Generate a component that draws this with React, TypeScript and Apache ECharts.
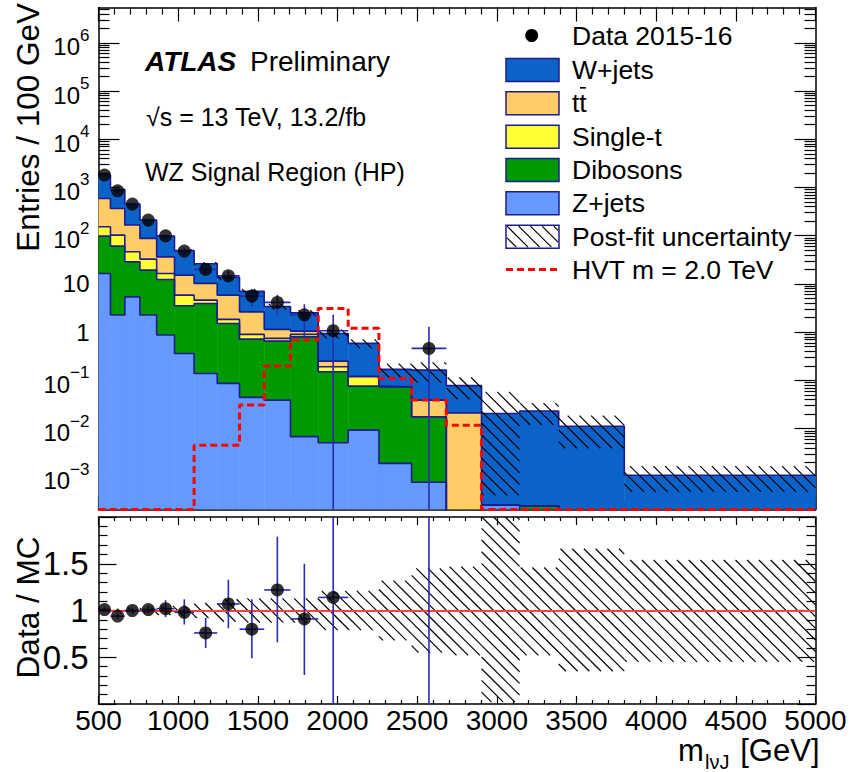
import React, { useEffect, useRef } from 'react';
import * as echarts from 'echarts';

// ---------------- data ----------------
const binEdges = [500, 575, 665, 760, 865, 977, 1100, 1245, 1385, 1540, 1705, 1879, 2067, 2260, 2465, 2683, 2904, 3143, 3388, 3800, 5000];

const zJets = [16.5, 2.26, 5.4, 2.26, 0.87, 0.362, 0.139, 0.0865, 0.0443, 0.039, 0.0068, 0.0051, 0.0093, 0.0019, 0.00077, 0.0001, 0.00026, 0.00015, 0, 0];
const dibosons = [81.5, 58.5, 23.3, 17.1, 11.5, 3.16, 3.8, 1.43, 0.673, 0.613, 0.793, 0.146, 0.0667, 0.0716, 0.0168, 0.00005, 0, 0.0001, 0, 0];
const singleTop = [55, 42, 17.7, 13.3, 4.1, 2.34, 0.68, 0.32, 0.18, 0.09, 0.1, 0.04, 0.043, 0.0001, 0.00005, 0, 0, 0, 0, 0];
const ttbar = [440, 265, 120, 55.2, 20, 9.34, 5.63, 4.02, 1.74, 0.4, 0.15, 0.06, 0.003, 0.0004, 0.0214, 0.021, 0, 0, 0, 0];
const wJets = [1197, 539, 286, 121, 61, 33.8, 16.05, 7.94, 4.36, 2.25, 1.47, 0.689, 0.462, 0.095, 0.124, 0.0568, 0.0203, 0.0229, 0.0112, 0.00108];

const dataValues = [1807, 853, 452, 211, 99.5, 48, 20.0, 14.7, 5.59, 4.14, 2.29, 1.07, null, null, 0.46, null, null, null, null, null];
const dataErrLow = [1760, 826, 438, 203, 91, 42, 16, 11.2, 3.4, 2.24, 0.8, 0, null, null, 0, null, null, null, null, null];
const dataErrHigh = [1855, 880, 466, 219, 108, 54, 24, 18.4, 7.8, 6.0, 3.8, 2.3, null, null, 1.3, null, null, null, null, null];

const hvtSignal = [0, 0, 0, 0, 0, 0, 0.0045, 0.0045, 0.0307, 0.198, 0.684, 3.1, 1.2, 0.11, 0.039, 0.0118, 0, 0, 0, 0];

const uncLow = [0.98, 0.98, 0.97, 0.97, 0.95, 0.94, 0.92, 0.88, 0.87, 0.87, 0.87, 0.79, 0.79, 0.68, 0.55, 0.52, 0.02, 0.52, 0.35, 0.45];
const uncHigh = [1.02, 1.02, 1.03, 1.03, 1.05, 1.06, 1.08, 1.12, 1.13, 1.13, 1.13, 1.21, 1.21, 1.32, 1.45, 1.47, 2.8, 1.46, 1.66, 1.54];

const ratioValues = [1.01, 0.94, 1.0, 1.01, 1.02, 0.98, 0.76, 1.07, 0.8, 1.22, 0.91, 1.14, null, null, 2.8, null, null, null, null, null];
const ratioErrLow = [0.985, 0.91, 0.97, 0.97, 0.93, 0.85, 0.6, 0.81, 0.49, 0.66, 0.31, 0, null, null, 0, null, null, null, null, null];
const ratioErrHigh = [1.035, 0.97, 1.03, 1.05, 1.11, 1.12, 0.92, 1.33, 1.12, 1.79, 1.5, 2.5, null, null, 5, null, null, null, null, null];

const yMajorTicks = [1e-3, 1e-2, 1e-1, 1, 10, 100, 1e3, 1e4, 1e5, 1e6];
const ratioTickLabels = ['0.5', '1', '1.5'];
const legendLabels = ['Data 2015-16', 'W+jets', 'tt', 'Single-t', 'Dibosons', 'Z+jets', 'Post-fit uncertainty', 'HVT m = 2.0 TeV'];

// ---------------- styling constants ----------------
const Y_MIN = 2.1e-4;
const Y_MAX = 5.4e6;
const FONT = '"Liberation Sans", Arial, Helvetica, sans-serif';
const NAVY = '#1c1c8f';
const ERR = '#2b2bb5';
const HATCH = 11.7;

const yMinorTicks: number[] = [];
for (let e = -4; e <= 6; e++) {
  for (let k = 2; k <= 9; k++) {
    const v = k * Math.pow(10, e);
    if (v > Y_MIN && v < Y_MAX) yMinorTicks.push(v);
  }
}

function hatchSegments(x0: number, y0: number, x1: number, y1: number, s: number) {
  const out: number[][] = [];
  if (x1 - x0 <= 0 || y1 - y0 <= 0) return out;
  const kMin = Math.ceil((y0 - x1) / s);
  const kMax = Math.floor((y1 - x0) / s);
  for (let k = kMin; k <= kMax; k++) {
    const c = k * s;
    const xa = Math.max(x0, y0 - c);
    const xb = Math.min(x1, y1 - c);
    if (xb - xa > 0.3) out.push([xa, xa + c, xb, xb + c]);
  }
  return out;
}

function buildOption() {
  const nBins = binEdges.length - 1;
  const centers = binEdges.slice(0, -1).map((e, i) => (e + binEdges[i + 1]) / 2);

  const layers = [
    { name: 'Z+jets', values: zJets, color: '#6699ff' },
    { name: 'Dibosons', values: dibosons, color: '#009900' },
    { name: 'Single-t', values: singleTop, color: '#ffff33' },
    { name: 'ttbar', values: ttbar, color: '#ffcc66' },
    { name: 'W+jets', values: wJets, color: '#0b63c9' },
  ];
  let running = new Array(nBins).fill(0);
  const cum = layers.map((l) => {
    const lo = running.slice();
    running = running.map((r: number, i: number) => r + l.values[i]);
    return { ...l, lo, hi: running.slice() };
  });
  const total = running;

  const renderFill = (color: string) => (params: any, api: any) => {
    const cs = params.coordSys;
    const bot = cs.y + cs.height;
    const top = cs.y;
    const xa = api.coord([api.value(0), 1])[0];
    const xb = api.coord([api.value(1), 1])[0];
    const lo = api.value(2);
    const hi = api.value(3);
    const yLo = lo > 0 ? Math.min(bot, api.coord([api.value(0), lo])[1]) : bot;
    const yHi = hi > 0 ? Math.max(top, Math.min(bot, api.coord([api.value(0), hi])[1])) : bot;
    if (yLo - yHi <= 0.01) return { type: 'group', children: [] };
    return {
      type: 'rect',
      shape: { x: xa, y: yHi, width: xb - xa + 0.4, height: yLo - yHi },
      style: { fill: color },
    };
  };

  const renderHatch = (isLog: boolean) => (params: any, api: any) => {
    const cs = params.coordSys;
    const bot = cs.y + cs.height;
    const top = cs.y;
    const xa = api.coord([api.value(0), 1])[0];
    const xb = api.coord([api.value(1), 1])[0];
    const lo = api.value(2);
    const hi = api.value(3);
    const yOf = (v: number) => {
      if (isLog && !(v > 0)) return bot;
      return Math.max(top, Math.min(bot, api.coord([api.value(0), v])[1]));
    };
    const segs = hatchSegments(xa, yOf(hi), xb, yOf(lo), HATCH);
    return {
      type: 'group',
      children: segs.map((s) => ({
        type: 'line',
        shape: { x1: s[0], y1: s[1], x2: s[2], y2: s[3] },
        style: { stroke: '#000', lineWidth: 1.2 },
      })),
    };
  };

  const renderErr = (isLog: boolean) => (params: any, api: any) => {
    const cs = params.coordSys;
    const bot = cs.y + cs.height;
    const top = cs.y;
    const x0 = api.value(0);
    const x1 = api.value(1);
    const v = api.value(2);
    const lo = api.value(3);
    const hi = api.value(4);
    const yOf = (val: number) => {
      if (isLog && !(val > 0)) return bot;
      return Math.max(top, Math.min(bot, api.coord([x0, val])[1]));
    };
    const xa = api.coord([x0, 1])[0];
    const xb = api.coord([x1, 1])[0];
    const xc = (xa + xb) / 2;
    const children: any[] = [];
    const yv = api.coord([x0, v])[1];
    const st = { stroke: ERR, lineWidth: 1.6 };
    if (yv >= top && yv <= bot) {
      children.push({ type: 'line', shape: { x1: xa, y1: yv, x2: xb, y2: yv }, style: st });
    }
    children.push({ type: 'line', shape: { x1: xc, y1: yOf(hi), x2: xc, y2: yOf(lo) }, style: st });
    return { type: 'group', children };
  };

  const stepData = (vals: number[], floor: number) =>
    binEdges.map((e, i) => [e, Math.max(vals[Math.min(i, vals.length - 1)], floor)]);

  const series: any[] = [];

  cum.forEach((l, idx) => {
    series.push({
      type: 'custom',
      name: l.name,
      xAxisIndex: 0,
      yAxisIndex: 0,
      z: 1 + idx * 0.01,
      clip: true,
      renderItem: renderFill(l.color),
      data: binEdges.slice(0, -1).map((e, i) => [e, binEdges[i + 1], l.lo[i], l.hi[i]]),
    });
  });
  cum.forEach((l) => {
    series.push({
      type: 'line',
      name: l.name + ' outline',
      xAxisIndex: 0,
      yAxisIndex: 0,
      step: 'end',
      symbol: 'none',
      clip: true,
      z: 2,
      lineStyle: { color: NAVY, width: 1.6 },
      data: stepData(l.hi, 1e-7),
    });
  });
  series.push({
    type: 'custom',
    name: 'Post-fit uncertainty',
    xAxisIndex: 0,
    yAxisIndex: 0,
    z: 3,
    clip: true,
    renderItem: renderHatch(true),
    data: binEdges.slice(0, -1).map((e, i) => [e, binEdges[i + 1], total[i] * uncLow[i], total[i] * uncHigh[i]]),
  });
  series.push({
    type: 'line',
    name: 'HVT m = 2.0 TeV',
    xAxisIndex: 0,
    yAxisIndex: 0,
    step: 'end',
    symbol: 'none',
    clip: true,
    z: 5,
    lineStyle: { color: '#ff0000', width: 3, type: [7, 4] },
    data: stepData(hvtSignal, Y_MIN),
  });
  const dataIdx = dataValues.map((v, i) => (v === null ? -1 : i)).filter((i) => i >= 0);
  series.push({
    type: 'custom',
    name: 'data errors',
    xAxisIndex: 0,
    yAxisIndex: 0,
    z: 6,
    clip: true,
    renderItem: renderErr(true),
    data: dataIdx.map((i) => [binEdges[i], binEdges[i + 1], dataValues[i], dataErrLow[i], dataErrHigh[i]]),
  });
  series.push({
    type: 'scatter',
    name: 'Data 2015-16',
    xAxisIndex: 0,
    yAxisIndex: 0,
    z: 7,
    symbol: 'circle',
    symbolSize: 13,
    itemStyle: { color: '#000' },
    data: dataIdx.map((i) => [centers[i], dataValues[i]]),
  });

  series.push({
    type: 'custom',
    name: 'ratio band',
    xAxisIndex: 2,
    yAxisIndex: 4,
    z: 3,
    clip: true,
    renderItem: renderHatch(false),
    data: binEdges.slice(0, -1).map((e, i) => [e, binEdges[i + 1], uncLow[i], uncHigh[i]]),
  });
  const ratioIdx = ratioValues.map((v, i) => (v === null ? -1 : i)).filter((i) => i >= 0);
  series.push({
    type: 'custom',
    name: 'ratio errors',
    xAxisIndex: 2,
    yAxisIndex: 4,
    z: 6,
    clip: true,
    renderItem: renderErr(false),
    data: ratioIdx.map((i) => [binEdges[i], binEdges[i + 1], ratioValues[i], ratioErrLow[i], ratioErrHigh[i]]),
  });
  series.push({
    type: 'scatter',
    name: 'ratio',
    xAxisIndex: 2,
    yAxisIndex: 4,
    z: 7,
    clip: true,
    symbol: 'circle',
    symbolSize: 13,
    itemStyle: { color: '#000' },
    data: ratioIdx.map((i) => [centers[i], ratioValues[i]]),
    markLine: {
      silent: true,
      symbol: 'none',
      z: 4,
      label: { show: false },
      lineStyle: { color: '#ff4040', width: 2, type: 'solid' },
      data: [{ yAxis: 1 }],
    },
  });

  const tickStyle = { color: '#000', width: 1.2 };
  const axisLineStyle = { color: '#000', width: 1.5 };

  const xAxisCfg = (gridIndex: number, position: string, major: number, minor: number, labels: boolean) => ({
    gridIndex,
    type: 'value',
    position,
    min: 500,
    max: 5000,
    interval: 500,
    axisLine: { show: true, onZero: false, lineStyle: axisLineStyle },
    axisTick: { show: true, inside: true, length: major, lineStyle: tickStyle },
    minorTick: { show: true, splitNumber: 5, length: minor, lineStyle: tickStyle },
    axisLabel: labels
      ? {
          show: true,
          color: '#000',
          fontFamily: FONT,
          fontSize: 28,
          margin: 2,
          formatter: (v: number) => String(Math.round(v)),
        }
      : { show: false },
    splitLine: { show: false },
    minorSplitLine: { show: false },
  });

  const logFormatter = (v: number) => {
    const e = Math.round(Math.log10(v));
    if (e === 0) return '1';
    if (e === 1) return '10';
    const sup = e < 0 ? '\u2212' + String(-e) : String(e);
    return '{b|10}{s|' + sup + '}';
  };

  const logYAxis = (position: string, ticks: number[], len: number, main: boolean, labels: boolean) => ({
    gridIndex: 0,
    type: 'log',
    logBase: 10,
    min: Y_MIN,
    max: Y_MAX,
    position,
    axisLine: { show: main, onZero: false, lineStyle: axisLineStyle },
    axisTick: { show: true, inside: true, length: len, customValues: ticks, lineStyle: tickStyle },
    axisLabel: labels
      ? {
          show: true,
          customValues: yMajorTicks,
          formatter: logFormatter,
          color: '#000',
          fontFamily: FONT,
          fontSize: 24,
          margin: 9,
          rich: {
            b: { fontSize: 24, fontFamily: FONT, color: '#000', padding: [8, 0, 0, 0] },
            s: { fontSize: 17, fontFamily: FONT, color: '#000', verticalAlign: 'top' },
          },
        }
      : { show: false },
    splitLine: { show: false },
  });

  const ratioYAxis = (position: string, labels: boolean) => ({
    gridIndex: 1,
    type: 'value',
    position,
    min: 0,
    max: 2,
    interval: 0.5,
    axisLine: { show: true, onZero: false, lineStyle: axisLineStyle },
    axisTick: { show: true, inside: true, length: 18, lineStyle: tickStyle },
    minorTick: { show: true, splitNumber: 5, length: 9, lineStyle: tickStyle },
    axisLabel: labels
      ? {
          show: true,
          color: '#000',
          fontFamily: FONT,
          fontSize: 33,
          margin: 10,
          formatter: (v: number) => {
            if (Math.abs(v - 0.5) < 1e-6) return ratioTickLabels[0];
            if (Math.abs(v - 1) < 1e-6) return ratioTickLabels[1];
            if (Math.abs(v - 1.5) < 1e-6) return ratioTickLabels[2];
            return '';
          },
        }
      : { show: false },
    splitLine: { show: false },
    minorSplitLine: { show: false },
  });

  const txt = (x: number, y: number, text: string, size: number, extra: any = {}) => ({
    type: 'text',
    x,
    y,
    z: 100,
    style: {
      text,
      fill: '#000',
      fontFamily: FONT,
      fontSize: size,
      align: 'left',
      verticalAlign: 'middle',
      textAlign: 'left',
      textVerticalAlign: 'middle',
      ...extra,
    },
  });

  const LX = 506;
  const LW = 53;
  const LH = 23;
  const LTX = 572;
  const rows = [35.5, 70, 103.3, 136.7, 170, 203.3, 236.7, 269.5];
  const boxColors = ['#0b63c9', '#ffcc66', '#ffff33', '#009900', '#6699ff'];
  const graphics: any[] = [];
  graphics.push({ type: 'circle', z: 100, shape: { cx: 531.7, cy: rows[0], r: 6.5 }, style: { fill: '#000' } });
  boxColors.forEach((c, i) => {
    graphics.push({
      type: 'rect',
      z: 100,
      shape: { x: LX, y: rows[i + 1] - LH / 2, width: LW, height: LH },
      style: { fill: c, stroke: NAVY, lineWidth: 1.5 },
    });
  });
  const hb = { x: LX, y: rows[6] - LH / 2 };
  graphics.push({
    type: 'rect',
    z: 100,
    shape: { x: hb.x, y: hb.y, width: LW, height: LH },
    style: { fill: '#fff', stroke: NAVY, lineWidth: 1.5 },
  });
  hatchSegments(hb.x + 1, hb.y + 1, hb.x + LW - 1, hb.y + LH - 1, HATCH).forEach((s) => {
    graphics.push({
      type: 'line',
      z: 101,
      shape: { x1: s[0], y1: s[1], x2: s[2], y2: s[3] },
      style: { stroke: '#000', lineWidth: 1.2 },
    });
  });
  graphics.push({
    type: 'line',
    z: 100,
    shape: { x1: LX, y1: rows[7], x2: LX + LW, y2: rows[7] },
    style: { stroke: '#ff0000', lineWidth: 3, lineDash: [7, 4] },
  });
  legendLabels.forEach((t, i) => graphics.push(txt(LTX, rows[i], t, 26.5)));
  graphics.push({
    type: 'line',
    z: 100,
    shape: { x1: 580, y1: rows[2] - 15.5, x2: 586, y2: rows[2] - 15.5 },
    style: { stroke: '#000', lineWidth: 1.6 },
  });

  graphics.push(txt(145, 61, 'ATLAS', 28, { fontWeight: 'bold', fontStyle: 'italic' }));
  graphics.push(txt(250, 61, 'Preliminary', 28));
  graphics.push(txt(146, 116.7, '\u221As = 13 TeV, 13.2/fb', 25));
  graphics.push(txt(145, 171.7, 'WZ Signal Region (HP)', 25));

  graphics.push({
    type: 'text',
    x: 27.5,
    y: 3,
    rotation: Math.PI / 2,
    z: 100,
    style: {
      text: 'Entries / 100 GeV',
      fill: '#000',
      fontFamily: FONT,
      fontSize: 31.5,
      align: 'right',
      verticalAlign: 'middle',
      textAlign: 'right',
      textVerticalAlign: 'middle',
    },
  });
  graphics.push({
    type: 'text',
    x: 27.5,
    y: 607.5,
    rotation: Math.PI / 2,
    z: 100,
    style: {
      text: 'Data / MC',
      fill: '#000',
      fontFamily: FONT,
      fontSize: 31.5,
      align: 'center',
      verticalAlign: 'middle',
      textAlign: 'center',
      textVerticalAlign: 'middle',
    },
  });
  graphics.push(txt(678, 750, 'm', 31));
  graphics.push(txt(705, 762, 'l\u03BDJ', 20));
  graphics.push(txt(819.5, 750, '[GeV]', 31, { align: 'right', textAlign: 'right' }));

  return {
    animation: false,
    backgroundColor: '#ffffff',
    grid: [
      { left: 98.5, top: 7.5, width: 717, height: 502, outerBoundsMode: 'none', containLabel: false },
      { left: 98.5, top: 517, width: 717, height: 187, outerBoundsMode: 'none', containLabel: false },
    ],
    xAxis: [
      xAxisCfg(0, 'bottom', 14, 7, false),
      xAxisCfg(0, 'top', 14, 7, false),
      xAxisCfg(1, 'bottom', 8, 4, true),
      xAxisCfg(1, 'top', 8, 4, false),
    ],
    yAxis: [
      logYAxis('left', yMajorTicks, 21, true, true),
      logYAxis('left', yMinorTicks, 11, false, false),
      logYAxis('right', yMajorTicks, 21, true, false),
      logYAxis('right', yMinorTicks, 11, false, false),
      ratioYAxis('left', true),
      ratioYAxis('right', false),
    ],
    series,
    graphic: { elements: graphics },
  };
}

export default function App() {
  const ref = useRef<HTMLDivElement>(null);
  useEffect(() => {
    if (!ref.current) return;
    const chart = echarts.init(ref.current, null, { renderer: 'svg' });
    chart.setOption(buildOption() as any);
    return () => {
      chart.dispose();
    };
  }, []);
  return (
    <div
      ref={ref}
      style={{ position: 'absolute', left: 0, top: 0, width: 852, height: 772, background: '#fff' }}
    />
  );
}
